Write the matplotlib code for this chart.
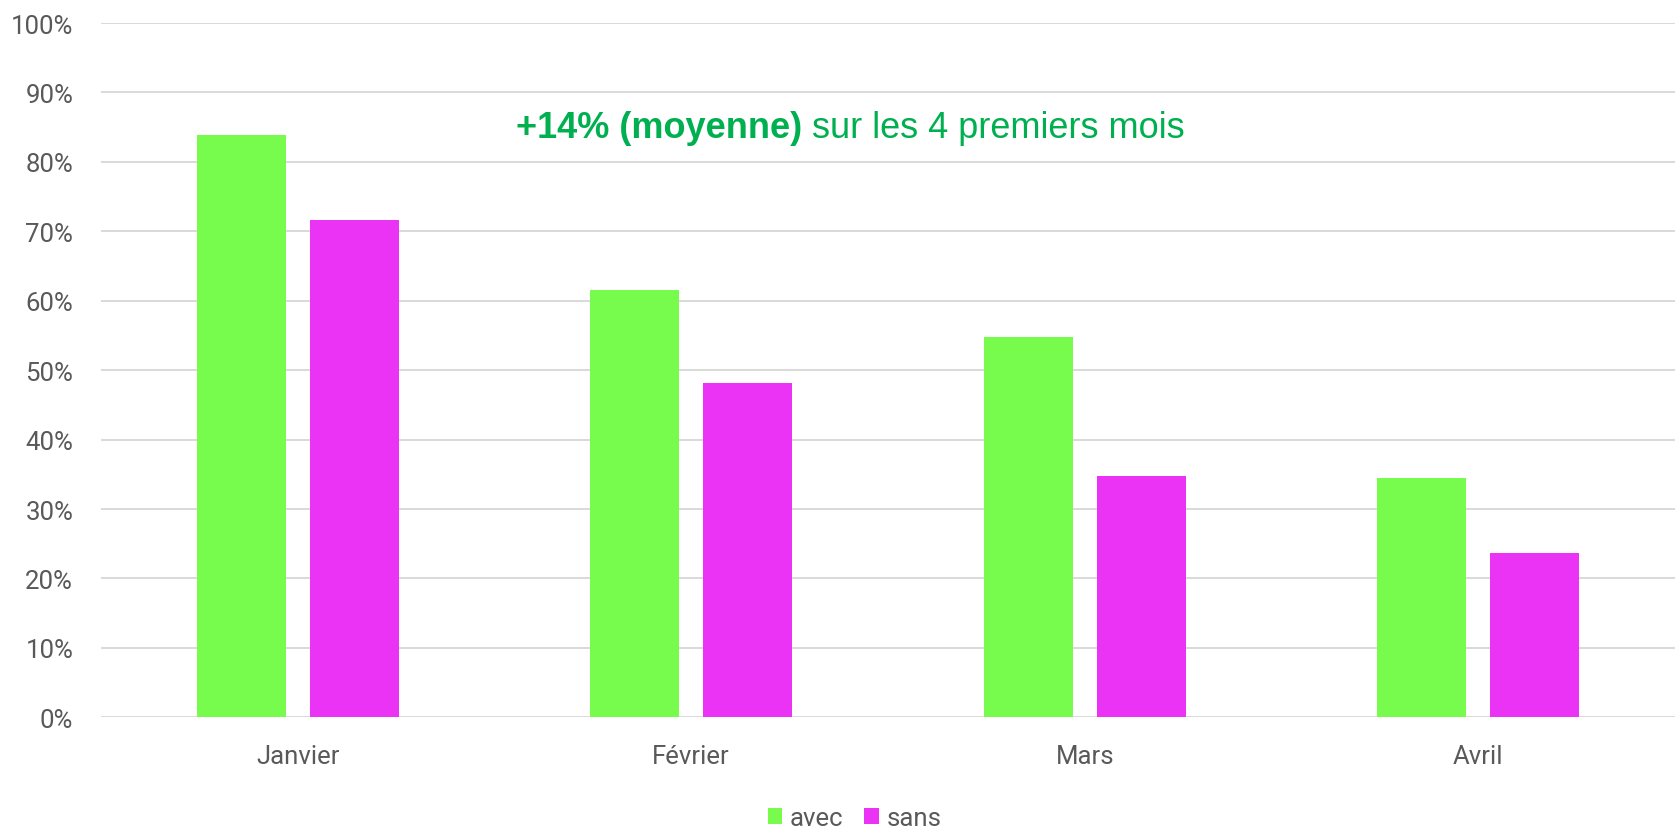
import matplotlib
matplotlib.use("Agg")
import matplotlib.pyplot as plt
import numpy as np

months = ["Janvier", "Février", "Mars", "Avril"]
avec = [83.9, 61.5, 54.8, 34.5]
sans = [71.6, 48.2, 34.7, 23.6]
yticks = [0, 10, 20, 30, 40, 50, 60, 70, 80, 90, 100]
series_names = ["avec", "sans"]
note_bold = "+14% (moyenne)"
note_rest = " sur les 4 premiers mois"

GREEN = "#77FC4D"
MAGENTA = "#EB33F5"
TXT = "#595959"
GRID = "#D9D9D9"
NOTE = "#00B050"

W, H = 1678, 829
fig = plt.figure(figsize=(W / 100, H / 100), dpi=100)
ax = fig.add_axes([101 / W, 1 - 718.3 / H, (1675 - 101) / W, (718.3 - 24) / H])

x = np.arange(len(months))
bw = 0.226
off = 0.1435
ax.bar(x - off, avec, width=bw, color=GREEN, label=series_names[0], zorder=3)
ax.bar(x + off, sans, width=bw, color=MAGENTA, label=series_names[1], zorder=3)

ax.set_xlim(-0.5, len(months) - 0.5)
ax.set_ylim(0, 100)
ax.set_yticks(yticks)
ax.set_yticklabels([f"{v}%" for v in yticks])
ax.set_xticks(x)
ax.set_xticklabels(months)
for s in ax.spines.values():
    s.set_visible(False)
ax.grid(axis="y", color=GRID, linewidth=1.4, zorder=0)
ax.set_axisbelow(True)
ax.tick_params(axis="both", length=0, labelsize=18.5, labelcolor=TXT)
ax.tick_params(axis="y", pad=20)
ax.tick_params(axis="x", pad=19)
for lab in ax.get_xticklabels() + ax.get_yticklabels():
    lab.set_fontfamily("Roboto")

leg = fig.legend(loc="center", bbox_to_anchor=(854.5 / W, 1 - 819 / H), ncol=2,
                 frameon=False, prop={"family": "Roboto", "size": 18.5},
                 handlelength=0.57, handleheight=0.57, handletextpad=0.3,
                 columnspacing=0.8, borderaxespad=0, borderpad=0)
for t in leg.get_texts():
    t.set_color(TXT)

# annotation with bold + regular parts, centered
cx, cy = 850 / W, 1 - 129 / H
t1 = fig.text(0, cy, note_bold, fontsize=26, fontweight="bold", color=NOTE,
              family="Liberation Sans", va="center", ha="left")
t2 = fig.text(0, cy, note_rest, fontsize=26, color=NOTE,
              family="Liberation Sans", va="center", ha="left")
fig.canvas.draw()
r = fig.canvas.get_renderer()
w1 = t1.get_window_extent(r).width / W
w2 = t2.get_window_extent(r).width / W
x0 = cx - (w1 + w2) / 2
t1.set_x(x0)
t2.set_x(x0 + w1)

fig.savefig("out.png", dpi=100, facecolor="white")
